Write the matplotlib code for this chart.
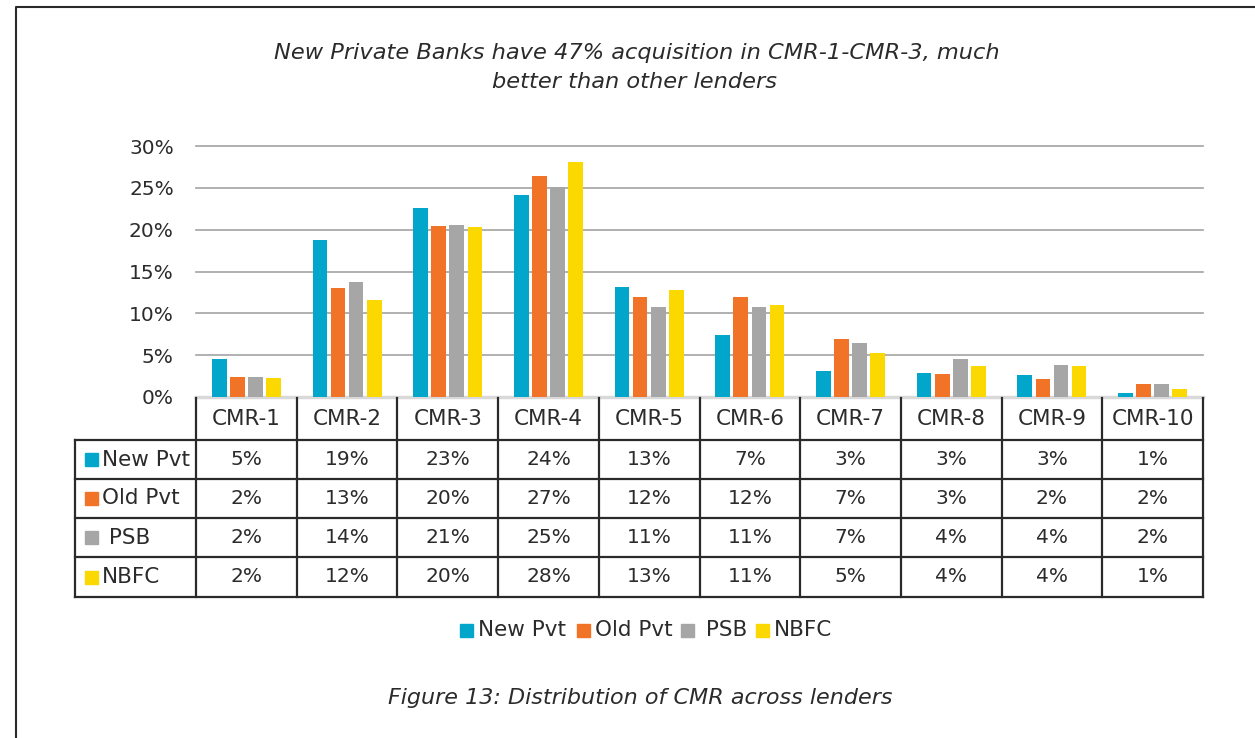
import matplotlib
matplotlib.use("Agg")
import matplotlib.pyplot as plt
from matplotlib.patches import Rectangle

# data
categories = ["CMR-1", "CMR-2", "CMR-3", "CMR-4", "CMR-5",
              "CMR-6", "CMR-7", "CMR-8", "CMR-9", "CMR-10"]
series_names = ["New Pvt", "Old Pvt", "PSB", "NBFC"]
table_names = ["New Pvt", "Old Pvt", " PSB", "NBFC"]
new_pvt = [4.5, 18.8, 22.6, 24.1, 13.2, 7.4, 3.1, 2.9, 2.6, 0.5]
old_pvt = [2.4, 13.0, 20.4, 26.4, 11.9, 11.9, 6.9, 2.7, 2.2, 1.6]
psb = [2.4, 13.7, 20.5, 25.1, 10.8, 10.7, 6.5, 4.5, 3.8, 1.5]
nbfc = [2.3, 11.6, 20.3, 28.1, 12.8, 11.0, 5.3, 3.7, 3.7, 0.9]
table_new = ["5%", "19%", "23%", "24%", "13%", "7%", "3%", "3%", "3%", "1%"]
table_old = ["2%", "13%", "20%", "27%", "12%", "12%", "7%", "3%", "2%", "2%"]
table_psb = ["2%", "14%", "21%", "25%", "11%", "11%", "7%", "4%", "4%", "2%"]
table_nbfc = ["2%", "12%", "20%", "28%", "13%", "11%", "5%", "4%", "4%", "1%"]
yticks = [0, 5, 10, 15, 20, 25, 30]

colors = ["#02A6CB", "#F07328", "#A6A6A6", "#FAD800"]
txt = "#2b2b2b"
line = "#2a2a2a"

plt.rcParams["font.family"] = ["DejaVu Sans"]

W, H = 1255, 738
fig = plt.figure(figsize=(W / 100, H / 100), dpi=100)

# plot area in pixels
x0, x1 = 196, 1203
y0, y30 = 397, 146
ax = fig.add_axes([x0 / W, 1 - y0 / H, (x1 - x0) / W, (y0 - y30) / H])
ax.set_xlim(0, len(categories))
ax.set_ylim(0, 30)
for s in ax.spines.values():
    s.set_visible(False)
ax.set_xticks([])
ax.set_yticks(yticks)
ax.set_yticklabels([f"{t}%" for t in yticks], fontsize=14.5, color=txt)
ax.tick_params(axis="y", length=0, pad=16)
ax.yaxis.grid(True, color="#a3a3a3", lw=1.2)
for gl in ax.get_ygridlines():
    gl.set_clip_on(False)
ax.set_axisbelow(True)
ax.axhline(0, color="#d9d9d9", lw=2.5, zorder=1, clip_on=False)

values = [new_pvt, old_pvt, psb, nbfc]
step, bw = 0.18, 0.146
for j, vals in enumerate(values):
    xs = [i + 0.5 + (j - 1.5) * step for i in range(len(categories))]
    ax.bar(xs, vals, width=bw, color=colors[j], zorder=2)

# overlay in pixel coordinates for table, texts and frame
ov = fig.add_axes([0, 0, 1, 1])
ov.set_xlim(0, W)
ov.set_ylim(H, 0)
ov.axis("off")
ov.patch.set_visible(False)

# frame
ov.plot([16, 16, W + 5], [H + 5, 7, 7], color=line, lw=1.5)

# title
ov.text(637, 53, "New Private Banks have 47% acquisition in CMR-1-CMR-3, much",
        ha="center", va="center", fontsize=16.2, style="italic", color=txt)
ov.text(634, 82, "better than other lenders",
        ha="center", va="center", fontsize=16.2, style="italic", color=txt)

# data table
cw = (x1 - x0) / len(categories)
row_edges = [440, 479, 518, 557, 597]
lbl_x = 75
tlw = 1.6
for i in range(len(categories) + 1):
    ov.plot([x0 + i * cw] * 2, [y0 + 1, row_edges[-1]], color=line, lw=tlw)
ov.plot([lbl_x] * 2, [row_edges[0], row_edges[-1]], color=line, lw=tlw)
for y in row_edges:
    ov.plot([lbl_x, x1], [y, y], color=line, lw=tlw)

for i, c in enumerate(categories):
    ov.text(x0 + (i + 0.5) * cw, 419, c, ha="center", va="center",
            fontsize=15.5, color=txt)

table_vals = [table_new, table_old, table_psb, table_nbfc]
for r, (name, row) in enumerate(zip(table_names, table_vals)):
    yc = (row_edges[r] + row_edges[r + 1]) / 2
    ov.add_patch(Rectangle((85, yc - 6.5), 13, 13, color=colors[r]))
    ov.text(102, yc, name, ha="left", va="center", fontsize=15.5, color=txt)
    for i, v in enumerate(row):
        ov.text(x0 + (i + 0.5) * cw, yc, v, ha="center", va="center",
                fontsize=14.5, color=txt)

# legend
leg_x = [460, 577, 681, 756]
for k, name in enumerate(series_names):
    ov.add_patch(Rectangle((leg_x[k], 623.5), 13, 13, color=colors[k]))
    lab = " " + name if name == "PSB" else name
    ov.text(leg_x[k] + 18, 630, lab, ha="left", va="center",
            fontsize=15.5, color=txt)

# caption
ov.text(640, 698, "Figure 13: Distribution of CMR across lenders",
        ha="center", va="center", fontsize=16, style="italic", color=txt)

fig.savefig("out.png", dpi=100)
